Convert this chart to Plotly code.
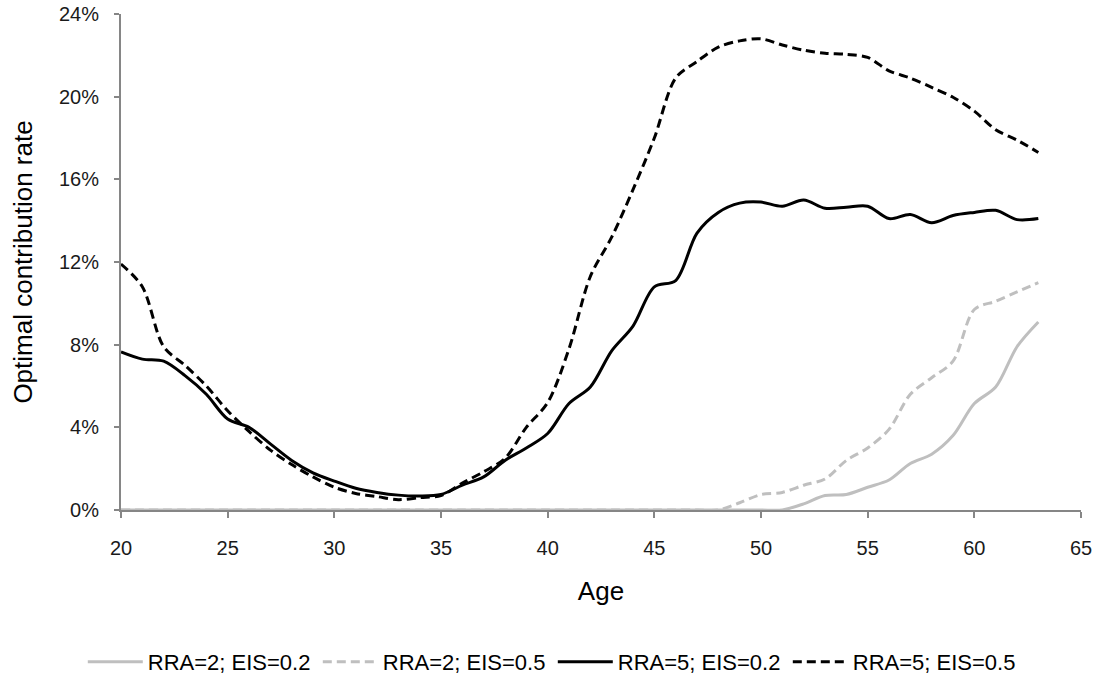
import plotly.graph_objects as go

ages = list(range(20, 64))

# RRA=2; EIS=0.2 (light grey, solid)
rra2_eis02 = [0]*32 + [0.3, 0.7, 0.75, 1.1, 1.45, 2.25, 2.7, 3.6, 5.15, 5.95, 7.9, 9.1]
# RRA=2; EIS=0.5 (light grey, dashed)
rra2_eis05 = [0]*29 + [0.35, 0.75, 0.85, 1.2, 1.5, 2.4, 3.0, 3.9, 5.6, 6.4, 7.2, 9.7, 10.1, 10.55, 11.0]
# RRA=5; EIS=0.2 (black, solid)
rra5_eis02 = [7.65, 7.3, 7.2, 6.5, 5.6, 4.4, 4.0, 3.2, 2.4, 1.8,
              1.4, 1.05, 0.85, 0.72, 0.68, 0.75, 1.2, 1.6, 2.4, 3.0,
              3.7, 5.15, 5.95, 7.7, 8.9, 10.8, 11.1, 13.4, 14.4, 14.85,
              14.9, 14.7, 15.0, 14.6, 14.65, 14.7, 14.1, 14.3, 13.9, 14.25,
              14.4, 14.5, 14.05, 14.1]
# RRA=5; EIS=0.5 (black, dashed)
rra5_eis05 = [11.9, 10.8, 7.9, 7.0, 6.0, 4.8, 3.8, 2.9, 2.2, 1.6,
              1.1, 0.8, 0.65, 0.5, 0.6, 0.7, 1.3, 1.85, 2.5, 4.0,
              5.2, 7.8, 11.3, 13.2, 15.5, 18.0, 20.9, 21.7, 22.4, 22.7,
              22.8, 22.5, 22.25, 22.1, 22.05, 21.9, 21.25, 20.9, 20.45, 19.97,
              19.3, 18.4, 17.9, 17.3]

x_ticks = [20, 25, 30, 35, 40, 45, 50, 55, 60, 65]
y_ticks = [0, 4, 8, 12, 16, 20, 24]
y_ticklabels = [f"{v}%" for v in y_ticks]

series = [
    ("RRA=2; EIS=0.2", rra2_eis02, "#BFBFBF", "solid"),
    ("RRA=2; EIS=0.5", rra2_eis05, "#BFBFBF", "9px,5px"),
    ("RRA=5; EIS=0.2", rra5_eis02, "#000000", "solid"),
    ("RRA=5; EIS=0.5", rra5_eis05, "#000000", "9px,5px"),
]

FONT = "Liberation Sans, Arial, sans-serif"

fig = go.Figure()
for name, vals, color, dash in series:
    fig.add_trace(go.Scatter(
        x=ages, y=vals, mode="lines", name=name,
        line=dict(color=color, width=3, dash=dash, shape="spline", smoothing=0.9),
    ))

axis_color = "#868686"
fig.update_layout(
    width=1099, height=677,
    margin=dict(l=121, r=18, t=14, b=167),
    paper_bgcolor="white", plot_bgcolor="white",
    font=dict(family=FONT, color="#1a1a1a", size=20),
    showlegend=True,
    legend=dict(
        orientation="h", xref="container", yref="container",
        x=0.503, xanchor="center", y=0.0222, yanchor="middle",
        font=dict(size=22, family=FONT, color="#000"),
        itemwidth=55, entrywidth=165, entrywidthmode="pixels",
        tracegroupgap=0,
        bgcolor="rgba(0,0,0,0)",
    ),
    xaxis=dict(
        range=[20, 65], tickvals=x_ticks, ticktext=[str(v) for v in x_ticks],
        showgrid=False, zeroline=False, showline=True, linecolor=axis_color, linewidth=2,
        ticks="outside", ticklen=6, tickcolor=axis_color, tickwidth=1.5,
        ticklabelstandoff=13, automargin=False, ticklabeloverflow="allow",
        tickfont=dict(size=20, family=FONT, color="#1a1a1a"),
        title=dict(text="Age", font=dict(size=26, family=FONT, color="#000"), standoff=24),
    ),
    yaxis=dict(
        range=[0, 24], tickvals=y_ticks, ticktext=y_ticklabels,
        showgrid=False, zeroline=False, showline=True, linecolor=axis_color, linewidth=2,
        ticks="outside", ticklen=5, tickcolor=axis_color, tickwidth=1.5,
        ticklabelstandoff=11, automargin=False, ticklabeloverflow="allow",
        tickfont=dict(size=20, family=FONT, color="#1a1a1a"),
        title=dict(text="Optimal contribution rate", font=dict(size=26, family=FONT, color="#000"), standoff=19),
    ),
)

fig.write_html("out.html", config={"displayModeBar": False},
               post_script="document.body.style.margin='0';")
